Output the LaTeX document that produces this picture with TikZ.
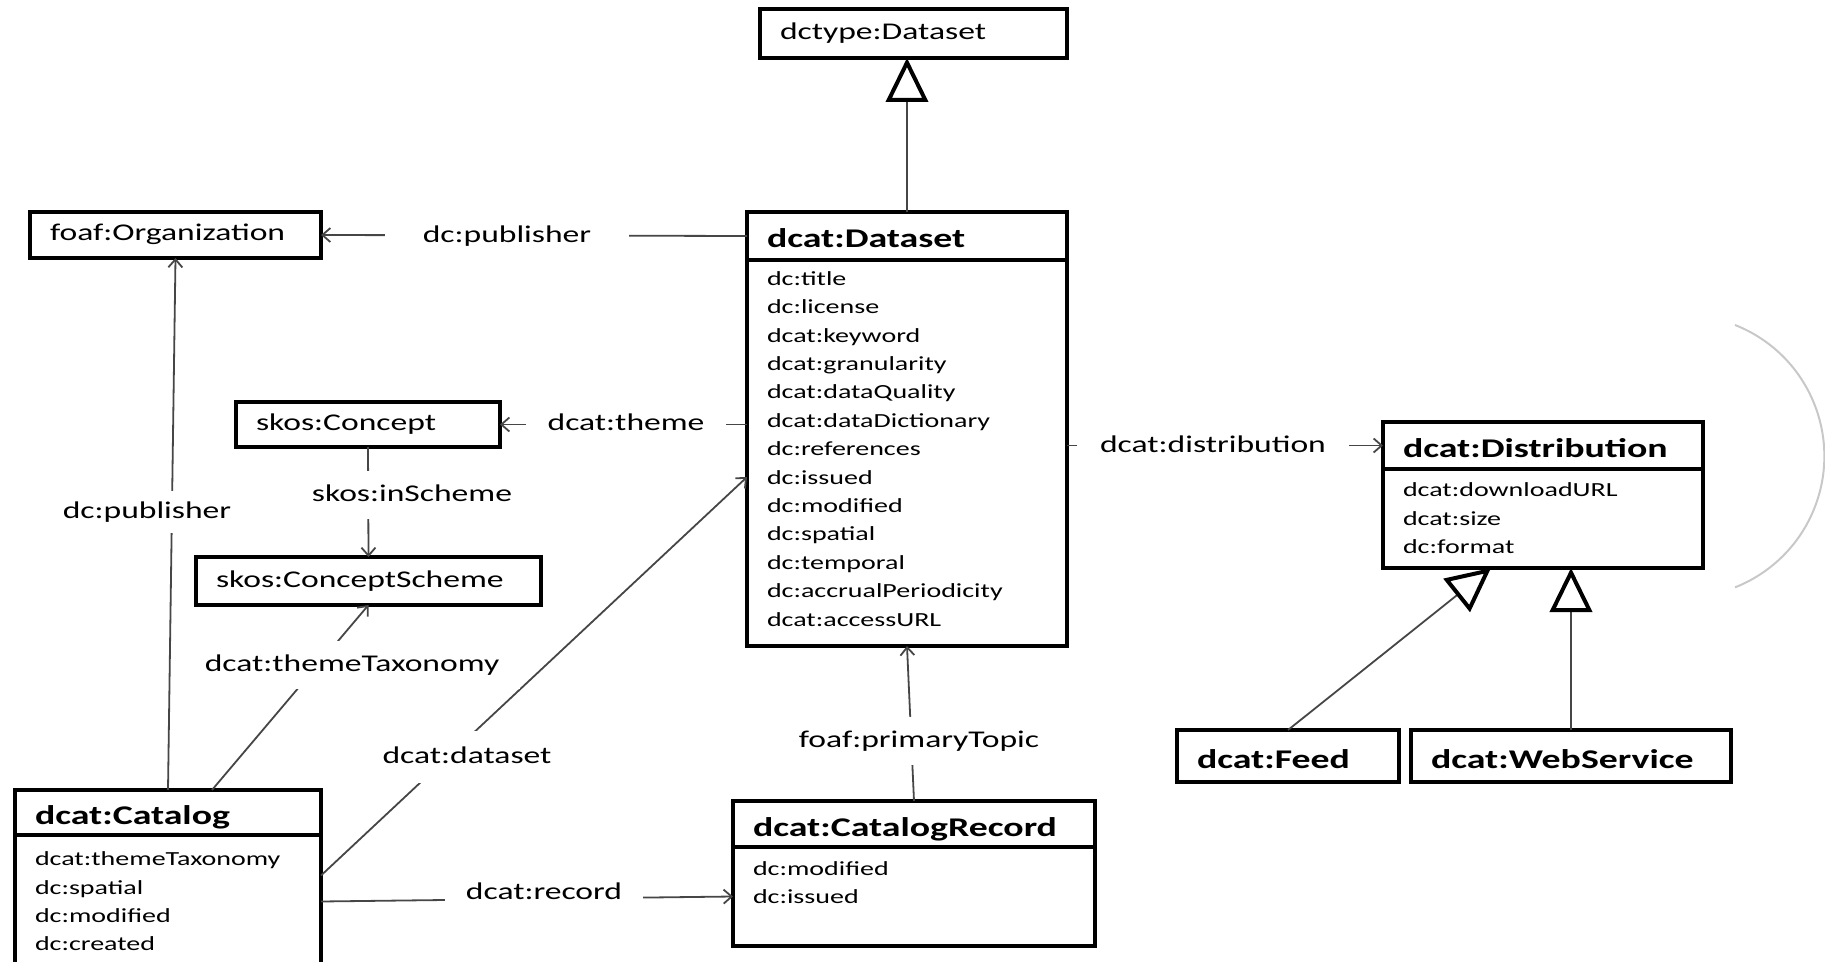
\documentclass[tikz,border=0pt]{standalone}
\usepackage{fontspec}
\setmainfont{Carlito}[FakeStretch=1.4]
\usetikzlibrary{arrows.meta}
\definecolor{cline}{RGB}{70,70,70}
\definecolor{carc}{RGB}{200,200,200}
\tikzset{
  dcatfig/.style={x=0.5pt,y=-0.5pt},
  plainbox/.style 2 args={draw, line width=2.2pt, anchor=north west, outer sep=0pt,
    inner xsep=10pt, inner ysep=0pt, align=left, text width=#1, minimum height=#2,
    font=\fontsize{12}{14}\selectfont, text height=8.5pt, text depth=2.5pt},
  umlhead/.style 2 args={plainbox={#1}{#2}, font=\fontsize{13.5}{16}\selectfont\bfseries,
    text height=12pt, text depth=0pt},
  umlbody/.style 2 args={draw, line width=2.2pt, anchor=north, outer sep=0pt,
    inner xsep=10pt, inner ysep=0pt, align=left, text width=#1, minimum height=#2,
    font=\fontsize{10}{14.2}\selectfont},
  proplab/.style={fill=white, inner xsep=10.5pt, inner ysep=6.5pt,
    font=\fontsize{12}{14}\selectfont, text height=8.5pt, text depth=2.5pt},
  assoc/.style={draw=cline, line width=0.9pt, -{Straight Barb[length=4pt,width=7pt]}},
  gener/.style={draw=cline, line width=0.9pt,
    -{Triangle[open,length=22pt,width=21pt,line width=2pt,color=black]}},
}
\begin{document}
\begin{tikzpicture}[dcatfig]
  \useasboundingbox (0,0) rectangle (1825,962);
  % plain classes
  \node[plainbox={133.5pt}{24.5pt}] (dctype) at (760,9) {dctype:Dataset};
  \node[plainbox={125.5pt}{23pt}] (org) at (30,212) {foaf:Organization};
  \node[plainbox={112pt}{22.5pt}] (concept) at (236,402) {skos:Concept};
  \node[plainbox={152.5pt}{24pt}] (scheme) at (196,557) {skos:ConceptScheme};
  % classes with properties
  \node[umlhead={140pt}{24pt}] (dshead) at (747,212) {dcat:Dataset};
  \node[umlbody={140pt}{193pt}] (dsbody) at (dshead.south)
    {dc:title\\dc:license\\dcat:keyword\\dcat:granularity\\dcat:dataQuality\\
     dcat:dataDictionary\\dc:references\\dc:issued\\dc:modified\\dc:spatial\\
     dc:temporal\\dc:accrualPeriodicity\\dcat:accessURL\\[-10pt]~};
  \node[umlhead={133pt}{22.5pt}] (cathead) at (15,790) {dcat:Catalog};
  \node[umlbody={133pt}{66.5pt}] (catbody) at (cathead.south)
    {dcat:themeTaxonomy\\dc:spatial\\dc:modified\\dc:created};
  \node[umlhead={161pt}{23pt}] (rechead) at (733,801) {dcat:CatalogRecord};
  \node[umlbody={161pt}{49.5pt}] (recbody) at (rechead.south) {dc:modified\\dc:issued\\~};
  \node[umlhead={140pt}{23.5pt}] (disthead) at (1383,422) {dcat:Distribution};
  \node[umlbody={140pt}{49.5pt}] (distbody) at (disthead.south)
    {dcat:downloadURL\\dcat:size\\dc:format};
  \node[umlhead={91pt}{26pt}] (feed) at (1177,730) {dcat:Feed};
  \node[umlhead={140pt}{26pt}] (web) at (1411,730) {dcat:WebService};
  % subclass links
  \draw[gener] (dshead.north) -- (dshead.north |- dctype.south);
  \draw[gener] (feed.north) -- ([xshift=-26pt]distbody.south);
  \draw[gener] (web.north) -- (web.north |- distbody.south);
  % properties
  \draw[assoc] (dshead.west) -- (org.east);
  \draw[assoc] (concept.east -| dsbody.west) -- (concept.east);
  \draw[assoc] (concept.south) -- (scheme.north);
  \draw[assoc] (cathead.north) -- (org.south);
  \draw[assoc] ([xshift=22pt]cathead.north) -- (scheme.south);
  \draw[assoc] ([yshift=13pt]catbody.east) -- ([yshift=-12pt]dsbody.west);
  \draw[assoc] (catbody.east) -- (recbody.west);
  \draw[assoc] (rechead.north) -- (dsbody.south);
  \draw[assoc] (disthead.west -| dsbody.east) -- (disthead.west);
  % property labels
  \node[proplab, inner xsep=19pt] (lpub) at (507,237) {dc:publisher};
  \node[proplab, inner xsep=11pt] (ltheme) at (626,424) {dcat:theme};
  \node[proplab] (lscheme) at (412,495) {skos:inScheme};
  \node[proplab, inner ysep=5pt] (lcatpub) at (147,512) {dc:publisher};
  \node[proplab] (ltax) at (352,665) {dcat:themeTaxonomy};
  \node[proplab, inner ysep=7.5pt] (lds) at (467,757) {dcat:dataset};
  \node[proplab] (lrec) at (544,893) {dcat:record};
  \node[proplab] (ltopic) at (919,741) {foaf:primaryTopic};
  \node[proplab, inner xsep=11.5pt] (ldist) at (1213,446) {dcat:distribution};
  % grey arc at the right edge
  \draw[carc, line width=1pt] (1735,325) arc[start angle=-68.5, end angle=68.5, radius=141];
\end{tikzpicture}
\end{document}
